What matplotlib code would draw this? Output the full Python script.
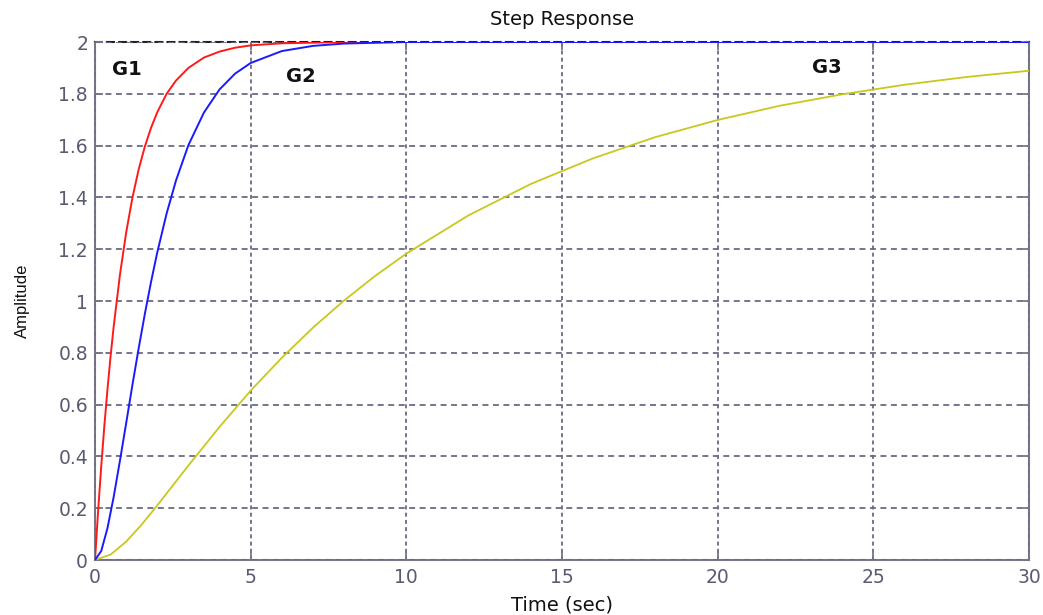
import matplotlib
matplotlib.use("Agg")
import matplotlib.pyplot as plt

# Step responses of three systems (time in seconds, amplitude)
t_g1 = [0, 0.1, 0.2, 0.3, 0.4, 0.5, 0.6, 0.8, 1.0, 1.2, 1.4, 1.6, 1.8, 2.0,
        2.3, 2.6, 3.0, 3.5, 4.0, 4.5, 5.0, 6.0, 8.0, 10, 15, 20, 25, 30]
y_g1 = [0, 0.19, 0.363, 0.518, 0.659, 0.787, 0.902, 1.101, 1.264, 1.398,
        1.507, 1.596, 1.669, 1.729, 1.800, 1.851, 1.900, 1.940, 1.963, 1.978,
        1.987, 1.995, 2.0, 2.0, 2.0, 2.0, 2.0, 2.0]

t_g2 = [0, 0.2, 0.4, 0.6, 0.8, 1.0, 1.2, 1.4, 1.6, 1.8, 2.0, 2.3, 2.6, 3.0,
        3.5, 4.0, 4.5, 5.0, 6.0, 7.0, 8.0, 10, 15, 20, 25, 30]
y_g2 = [0, 0.035, 0.123, 0.244, 0.383, 0.528, 0.675, 0.816, 0.950, 1.074,
        1.188, 1.338, 1.465, 1.602, 1.728, 1.817, 1.878, 1.919, 1.965, 1.985,
        1.994, 2.0, 2.0, 2.0, 2.0, 2.0]

t_g3 = [0, 0.5, 1.0, 1.5, 2.0, 3.0, 4.0, 5.0, 6.0, 7.0, 8.0, 9.0, 10, 12,
        14, 16, 18, 20, 22, 24, 26, 28, 30]
y_g3 = [0, 0.021, 0.071, 0.137, 0.211, 0.365, 0.514, 0.654, 0.781, 0.897,
        1.002, 1.097, 1.183, 1.331, 1.452, 1.551, 1.633, 1.699, 1.754, 1.798,
        1.835, 1.865, 1.889]

x_ticks = [0, 5, 10, 15, 20, 25, 30]
y_ticks = [0, 0.2, 0.4, 0.6, 0.8, 1.0, 1.2, 1.4, 1.6, 1.8, 2.0]
y_tick_labels = ["0", "0.2", "0.4", "0.6", "0.8", "1", "1.2", "1.4", "1.6", "1.8", "2"]

labels = ["G1", "G2", "G3"]
label_pos = [(1.03, 1.895), (6.6, 1.865), (23.5, 1.90)]

plt.rcParams["font.family"] = ["DejaVu Sans"]

fig = plt.figure(figsize=(10.43, 6.15), dpi=100)
ax = fig.add_axes([0.0911, 0.0894, 0.8955, 0.8423])

axis_col = "#77778a"
grid_col = "#6a6a82"
text_col = "#5a5a70"

ax.plot(t_g3, y_g3, color="#c8c81e", lw=1.3, zorder=3)
ax.plot(t_g1, y_g1, color="#ff1a1a", lw=1.4, zorder=4)
ax.plot(t_g2, y_g2, color="#1a1aff", lw=1.4, zorder=5)

ax.set_xlim(0, 30)
ax.set_ylim(0, 2)
ax.set_xticks(x_ticks)
ax.set_yticks(y_ticks)
ax.set_yticklabels(y_tick_labels)

# horizontal grid: longer dashes, vertical grid: short dashes
ax.yaxis.grid(True, color=grid_col, linestyle=(0, (3.3, 2.5)), linewidth=1.3, zorder=2)
ax.xaxis.grid(True, color=grid_col, linestyle=(0, (2.2, 1.8)), linewidth=1.3, zorder=2)
ax.set_axisbelow(False)

for s in ax.spines.values():
    s.set_color(axis_col)
    s.set_linewidth(1.5)
ax.spines["top"].set_color("#222222")
ax.spines["top"].set_linestyle((0, (3.3, 2.5)))

ax.tick_params(direction="in", length=6, width=1.3, color=axis_col,
               labelcolor=text_col, labelsize=13.5, top=True, right=True)
ax.tick_params(axis="x", pad=5.5)
ax.tick_params(axis="y", pad=5)

ax.text(0.5, 1.0425, "Step Response", transform=ax.transAxes, fontsize=14,
        color="#111111", ha="center", va="center")
ax.set_xlabel("Time (sec)", fontsize=14, color="#111111")
ax.xaxis.set_label_coords(0.5, -0.068)
ax.set_ylabel("Amplitude", fontsize=12, color="#111111",
              family=["Liberation Sans", "DejaVu Sans"])
ax.yaxis.set_label_coords(-0.0696, 0.5)

for name, (tx, ty) in zip(labels, label_pos):
    ax.text(tx, ty, name, fontsize=14, fontweight="bold", color="#111111",
            ha="center", va="center", zorder=6)

fig.savefig("out.png", dpi=100)
